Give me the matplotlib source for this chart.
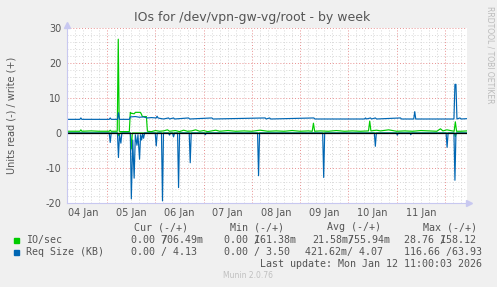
import matplotlib.pyplot as plt
from matplotlib.ticker import MultipleLocator, FixedLocator

# hours since 04 Jan 00:00
x_start, x_end = 4, 203

# IO/sec, write (+)
io_w_h = [4, 8, 10.4, 10.9, 11.4, 16, 20, 25, 25.5, 26, 29.0, 29.5, 30.0, 30.5, 35.0, 35.5,
          36, 37.5, 38, 40.5, 41, 41.5, 43.5, 44, 46, 48, 50, 52, 54, 55, 58, 60, 62, 64,
          66, 68, 70, 72, 74, 76, 78, 80, 84, 88, 92, 96, 100, 104, 108, 112, 116, 120,
          124, 126, 126.6, 127.2, 130, 134, 138, 142, 146, 150, 154, 154.6, 155.2, 158,
          160, 164, 168, 172, 176, 180, 184, 188, 189.8, 191, 193, 196.6, 197.2, 197.8,
          200, 203]
io_w_v = [0.5, 0.5, 0.5, 0.9, 0.5, 0.6, 0.5, 0.5, 0.8, 0.5, 0.5, 26.8, 0.5, 0.4, 0.4, 5.9,
          5.6, 5.5, 5.9, 5.9, 5.4, 4.7, 4.7, 0.5, 0.4, 0.7, 0.5, 0.6, 0.9, 0.5, 0.7, 0.4,
          0.8, 0.5, 0.6, 0.9, 0.5, 0.7, 0.4, 0.6, 0.8, 0.5, 0.7, 0.5, 0.6, 0.5, 0.8, 0.5,
          0.6, 0.5, 0.7, 0.5, 0.6, 0.5, 2.8, 0.5, 0.6, 0.5, 0.7, 0.5, 0.6, 0.5, 0.6, 3.4,
          0.6, 0.8, 0.6, 0.9, 0.5, 0.6, 0.5, 0.7, 0.6, 0.5, 1.2, 0.6, 0.9, 0.5, 3.2, 0.5,
          0.5, 0.6]

# IO/sec, read (-)
io_r_h = [4, 29.3, 29.8, 30.3, 35.5, 36, 36.5, 196.7, 197.2, 197.7, 203]
io_r_v = [0, 0, -0.8, 0, 0, -4.6, 0, 0, -1.0, 0, 0]

# Req Size (KB), write (+)
rq_w_h = [4, 10.4, 10.9, 11.4, 25, 25.5, 26, 29.1, 29.6, 30.1, 35.0, 35.5, 38, 40, 42, 44,
          46, 48.4, 48.8, 49.3, 50, 52, 54.5, 55, 57, 57.5, 64.5, 65, 76.1, 76.6, 102.6,
          103.1, 104.8, 105.3, 126.8, 127.3, 152, 152.5, 153, 155, 155.5, 157.4, 158,
          169.9, 170.4, 176.5, 177, 177.5, 196.5, 197, 197.5, 198, 199.5, 200, 203]
rq_w_v = [3.9, 3.9, 4.3, 3.9, 3.9, 4.3, 3.9, 3.9, 5.8, 3.9, 3.9, 4.6, 4.7, 4.5, 4.6, 4.3,
          4.4, 4.3, 4.8, 4.3, 4.2, 4.0, 4.3, 4.0, 4.3, 4.0, 4.3, 4.0, 4.3, 4.0, 4.3,
          4.0, 4.3, 4.0, 4.3, 4.0, 4.0, 4.3, 4.0, 4.3, 4.0, 4.3, 4.0,
          4.3, 4.0, 4.0, 6.1, 4.0, 4.0, 13.9, 13.9, 4.0, 4.3, 4.0, 4.1]

# Req Size (KB), read (-)
rq_r_h = [4, 25, 25.5, 26, 29.1, 29.6, 30.1, 30.8, 31.3, 35.5, 36, 36.7, 37.4, 38, 38.8,
          39.3, 40.1, 40.6, 41.1, 41.6, 42.1, 42.6, 47.9, 48.4, 48.9, 51, 51.5, 52, 54.5,
          55, 55.5, 56.5, 57, 57.5, 59, 59.5, 60, 64.8, 65.3, 65.8, 72.3, 72.8, 73.3,
          98.8, 99.3, 99.8, 131.2, 131.7, 132.2, 156.9, 157.4, 157.9, 168, 168.3, 168.8,
          174.7, 175, 175.5, 192.6, 193.1, 193.6, 196.5, 197, 197.5, 203]
rq_r_v = [0, 0, -2.7, 0, 0, -7.0, -0.5, -2.9, 0, 0, -18.8, -2, -12.9, -0.5, -3.5,
          -0.5, -7.5, -0.5, -2.0, -0.3, -1.5, 0, 0, -3.7, 0, 0, -19.4, 0, 0,
          -0.6, 0, 0, -1.1, 0, 0, -15.6, 0, 0, -8.5, 0, 0, -0.5, 0,
          0, -12.2, 0, 0, -12.7, 0, 0, -3.8, 0, 0, -0.6, 0,
          0, -0.5, 0, 0, -4.1, 0, 0, -13.5, 0, 0]

day_labels = ['04 Jan', '05 Jan', '06 Jan', '07 Jan', '08 Jan', '09 Jan', '10 Jan', '11 Jan']
label_pos = [12 + 24 * i for i in range(len(day_labels))]
midnights = [24 * i for i in range(1, 9)]

green = '#00CC00'
blue = '#0066B3'
txt = '#555555'

fig = plt.figure(figsize=(4.97, 2.87), dpi=100, facecolor='#F0F0F0')
ax = fig.add_axes([67 / 497, 84 / 287, 400 / 497, 175 / 287])
ax.set_facecolor('white')

# grid
ax.set_xlim(x_start, x_end)
ax.set_ylim(-20, 30)
ax.xaxis.set_major_locator(FixedLocator(midnights))
ax.xaxis.set_minor_locator(MultipleLocator(4))
ax.yaxis.set_major_locator(MultipleLocator(10))
ax.yaxis.set_minor_locator(MultipleLocator(2))
ax.grid(which='minor', color='#D8D8D8', linestyle=(0, (1, 2)), linewidth=0.7)
ax.grid(which='major', color='#E89090', linestyle=(0, (1, 2)), linewidth=0.7)
ax.set_axisbelow(True)

ax.plot(io_w_h, io_w_v, color=green, linewidth=0.85)
ax.plot(io_r_h, io_r_v, color=green, linewidth=0.85)
ax.plot(rq_w_h, rq_w_v, color=blue, linewidth=0.85)
ax.plot(rq_r_h, rq_r_v, color=blue, linewidth=0.85)
ax.axhline(0, color='black', linewidth=0.9)

ax.set_xticks(midnights)
ax.set_xticklabels([])
ax.tick_params(which='both', length=0)
for p, lab in zip(label_pos, day_labels):
    ax.text(p, -21.5, lab, ha='center', va='top', fontsize=7, color=txt)
ax.set_yticks([-20, -10, 0, 10, 20, 30])
ax.set_yticklabels(['-20', '-10', '0', '10', '20', '30'], fontsize=7, color=txt)
ax.tick_params(axis='y', pad=4)

for s in ['top', 'right']:
    ax.spines[s].set_visible(False)
for s in ['left', 'bottom']:
    ax.spines[s].set_color('#C8C8F0')
ax.plot([0], [1.02], marker='^', color='#C8C8F0', markersize=4, transform=ax.transAxes, clip_on=False)
ax.plot([1.005], [0], marker='>', color='#C8C8F0', markersize=4, transform=ax.transAxes, clip_on=False)

fig.text(252 / 497, 1 - 18 / 287, 'IOs for /dev/vpn-gw-vg/root - by week', ha='center', va='center',
         fontsize=9, color=txt)
fig.text(12 / 497, 1 - 115 / 287, 'Units read (-) / write (+)', rotation=90, ha='center', va='center',
         fontsize=7, color=txt)
fig.text(490 / 497, 1 - 55 / 287, 'RRDTOOL / TOBI OETIKER', rotation=270, ha='center', va='center',
         fontsize=5.5, color='#BBBBBB')

# legend block
mono = 'DejaVu Sans Mono'
fs = 7.2
cw = 6.0  # char width in px


def t(px, py, s, color=txt, ha='left'):
    fig.text(px / 497, 1 - py / 287, s, family=mono, fontsize=fs, color=color, ha=ha, va='center')


for x0, h in zip([134, 230, 327, 423], ['Cur (-/+)', 'Min (-/+)', 'Avg (-/+)', 'Max (-/+)']):
    t(x0, 227, h)

fig.patches.append(plt.Rectangle((14 / 497, 1 - 243 / 287), 5 / 497, 5 / 287, color=green,
                                 transform=fig.transFigure, figure=fig))
fig.patches.append(plt.Rectangle((14 / 497, 1 - 255 / 287), 5 / 497, 5 / 287, color=blue,
                                 transform=fig.transFigure, figure=fig))
t(26, 240, 'IO/sec')
t(26, 252, 'Req Size (KB)')

# row 1: slash overlaps the next digit, as in the original
row1 = [(131, '0.00 706.49m', 5), (224, '0.00 161.38m', 5), (312, '21.58m755.94m', 6),
        (404, '28.76 158.12', 6)]
for x0, s, k in row1:
    t(x0, 240, s)
    t(x0 + k * cw, 240, '/')
row2 = [(131, '0.00 / 4.13'), (224, '0.00 / 3.50'), (305, '421.62m/ 4.07'), (404, '116.66 /63.93')]
for x0, s in row2:
    t(x0, 252, s)
t(482, 264, 'Last update: Mon Jan 12 11:00:03 2026', ha='right')
fig.text(248 / 497, 1 - 276 / 287, 'Munin 2.0.76', fontsize=5.5, color='#C0C0C0', ha='center', va='center')

fig.savefig('out.png', dpi=100, facecolor=fig.get_facecolor())
